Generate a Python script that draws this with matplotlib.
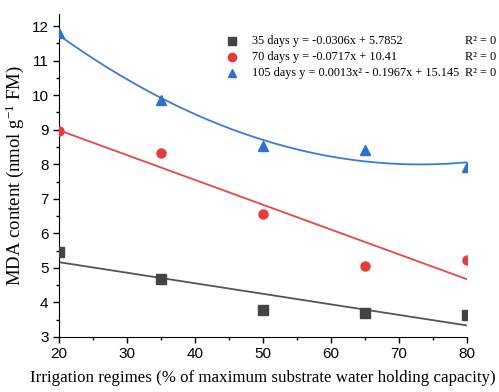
import numpy as np
import matplotlib
matplotlib.use("Agg")
import matplotlib.pyplot as plt
from matplotlib.ticker import MultipleLocator

# irrigation regimes (% of max substrate water holding capacity)
irrigation = [20, 35, 50, 65, 80]

mda_35 = [5.45, 4.68, 3.77, 3.70, 3.65]
mda_70 = [8.97, 8.33, 6.57, 5.05, 5.22]
mda_105 = [11.80, 9.85, 8.52, 8.40, 7.93]

labels = [
    "35 days y = -0.0306x + 5.7852",
    "70 days y = -0.0717x + 10.41",
    "105 days y = 0.0013x\u00b2 - 0.1967x + 15.145",
]
fit_deg = [1, 1, 2]
colors = ["#444444", "#e8393c", "#2b6fd8"]
line_colors = ["#555555", "#e54848", "#3a7ae0"]
markers = ["s", "o", "^"]

serif = ["Liberation Serif", "DejaVu Serif"]
sans = ["Liberation Sans", "DejaVu Sans"]
plt.rcParams["mathtext.fontset"] = "custom"
plt.rcParams["mathtext.rm"] = "Liberation Serif"
plt.rcParams["mathtext.it"] = "Liberation Serif:italic"

fig = plt.figure(figsize=(4.99, 3.92), dpi=100)
ax = fig.add_axes([59 / 499, 1 - 337 / 392, (467 - 59) / 499, (337 - 14) / 392])

xs = np.linspace(20, 80, 200)
for ys, deg, c, lc, m in zip([mda_35, mda_70, mda_105], fit_deg, colors, line_colors, markers):
    coef = np.polyfit(irrigation, ys, deg)
    ax.plot(xs, np.polyval(coef, xs), color=lc, lw=1.3, zorder=2)
    ax.plot(irrigation, ys, ls="none", marker=m, color=c, ms=6.5, zorder=3)

ax.set_xlim(20, 80)
ax.set_ylim(3, 12.35)
ax.xaxis.set_major_locator(MultipleLocator(10))
ax.xaxis.set_minor_locator(MultipleLocator(5))
ax.yaxis.set_major_locator(MultipleLocator(1))
ax.yaxis.set_minor_locator(MultipleLocator(0.5))
ax.spines["top"].set_visible(False)
ax.spines["right"].set_visible(False)
ax.tick_params(which="major", direction="out", length=4, width=1, labelsize=11)
ax.tick_params(which="minor", direction="out", length=2.5, width=1)
for lab in ax.get_xticklabels() + ax.get_yticklabels():
    lab.set_family(sans)

ax.set_xlabel("Irrigation regimes (% of maximum substrate water holding capacity)",
              family=serif, fontsize=12.2, labelpad=6)
ax.set_ylabel("MDA content (nmol g$^{-1}$ FM)", family=serif, fontsize=13.5, labelpad=4)

# legend drawn by hand so the R² column runs off the figure edge like the original
row_y = [41, 57, 73]
for lab, c, m, py in zip(labels, colors, markers, row_y):
    fig.lines.append(plt.Line2D([232 / 499], [1 - py / 392], transform=fig.transFigure,
                                marker=m, color=c, ms=6, ls="none"))
    fig.text(252 / 499, 1 - py / 392, lab, family=serif, fontsize=8.8, va="center")
    fig.text(465 / 499, 1 - py / 392, "R\u00b2 = 0", family=serif, fontsize=8.8, va="center")

fig.savefig("out.png", dpi=100)
